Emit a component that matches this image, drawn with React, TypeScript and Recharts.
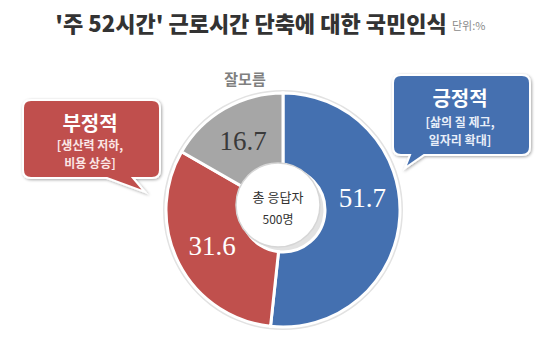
import React from 'react'
import { PieChart, Pie, Cell } from 'recharts'

const CATEGORIES = ['긍정적', '부정적', '잘모름']
const VALUES = [51.7, 31.6, 16.7]
const COLORS = ['#4470b0', '#c0504d', '#a6a6a6']
const LABEL_COLORS = ['#ffffff', '#ffffff', '#3a3a3a']

const data = CATEGORIES.map((name, i) => ({ name, value: VALUES[i] }))

const RAD = Math.PI / 180
const KFONT = '"Noto Sans CJK KR", "Noto Sans", sans-serif'

const renderLabel = (p: any) => {
  const r = (p.innerRadius + p.outerRadius) / 2
  const x = p.cx + r * Math.cos(-p.midAngle * RAD)
  const y = p.cy + r * Math.sin(-p.midAngle * RAD) + (p.index === 0 ? -16 : 0)
  return (
    <text x={x} y={y} textAnchor="middle" dominantBaseline="central" fill={LABEL_COLORS[p.index]}
      fontFamily='"Liberation Serif", serif' fontSize={27}>
      {p.value}
    </text>
  )
}

export default function App() {
  return (
    <div style={{ position: 'absolute', left: 0, top: 0, width: 550, height: 338, background: '#fff' }}>
      <PieChart width={550} height={338}>
        <Pie data={[{ v: 1 }]} dataKey="v" cx={278} cy={205} innerRadius={0} outerRadius={120}
          fill="#e2e2e2" stroke="none" isAnimationActive={false} />
        <Pie data={data} dataKey="value" cx={278} cy={205} innerRadius={42} outerRadius={117}
          startAngle={90} endAngle={-270} stroke="#fff" strokeWidth={3}
          label={renderLabel} labelLine={false} isAnimationActive={false}>
          {data.map((_, i) => <Cell key={i} fill={COLORS[i]} />)}
        </Pie>
      </PieChart>
      <svg width={550} height={338} style={{ position: 'absolute', left: 0, top: 0, pointerEvents: 'none' }}>
        <defs>
          <filter id="sh" x="-10%" y="-10%" width="130%" height="130%">
            <feDropShadow dx="1" dy="1" stdDeviation="1.5" floodColor="#000" floodOpacity="0.35" />
          </filter>
        </defs>
        <text x={251} y={22} textAnchor="middle" dominantBaseline="central" fontFamily={KFONT}
          fontWeight={900} fontSize={22} fill="#333">'주 52시간' 근로시간 단축에 대한 국민인식</text>
        <text x={452} y={25} dominantBaseline="central" fontFamily={KFONT} fontSize={11} fill="#8a8a8a">단위:%</text>

        <circle cx={278} cy={205} r={42} fill="#fff" stroke="#d6d6d6" strokeWidth={1.5} />
        <text x={278} y={196} textAnchor="middle" dominantBaseline="central" fontFamily={KFONT}
          fontSize={13} fill="#333">총 응답자</text>
        <text x={278} y={218} textAnchor="middle" dominantBaseline="central" fontFamily={KFONT}
          fontSize={12} fill="#333">500명</text>

        <text x={245} y={78} textAnchor="middle" dominantBaseline="central" fontFamily={KFONT}
          fontWeight={700} fontSize={15} fill="#808080">잘모름</text>

        <path d="M31,100 H152 Q160,100 160,108 V170 Q160,178 152,178 H133 L145,192 L107,178 H31 Q23,178 23,170 V108 Q23,100 31,100 Z"
          fill="#c0504d" stroke="#fff" strokeWidth={2} filter="url(#sh)" />
        <text x={90} y={122} textAnchor="middle" dominantBaseline="central" fontFamily={KFONT}
          fontWeight={700} fontSize={20} fill="#fff">부정적</text>
        <text x={90} y={144} textAnchor="middle" dominantBaseline="central" fontFamily={KFONT}
          fontWeight={700} fontSize={12} fill="#fbe6e6">[생산력 저하,</text>
        <text x={90} y={162} textAnchor="middle" dominantBaseline="central" fontFamily={KFONT}
          fontWeight={700} fontSize={12} fill="#fbe6e6">비용 상승]</text>

        <path d="M401,75 H522 Q530,75 530,83 V147 Q530,155 522,155 H424 L405,168 L410,155 H401 Q393,155 393,147 V83 Q393,75 401,75 Z"
          fill="#4470b0" stroke="#fff" strokeWidth={2} filter="url(#sh)" />
        <text x={460} y={97} textAnchor="middle" dominantBaseline="central" fontFamily={KFONT}
          fontWeight={700} fontSize={20} fill="#fff">긍정적</text>
        <text x={460} y={121} textAnchor="middle" dominantBaseline="central" fontFamily={KFONT}
          fontWeight={700} fontSize={12} fill="#e8eef8">[삶의 질 제고,</text>
        <text x={460} y={139} textAnchor="middle" dominantBaseline="central" fontFamily={KFONT}
          fontWeight={700} fontSize={12} fill="#e8eef8">일자리 확대]</text>
      </svg>
    </div>
  )
}
